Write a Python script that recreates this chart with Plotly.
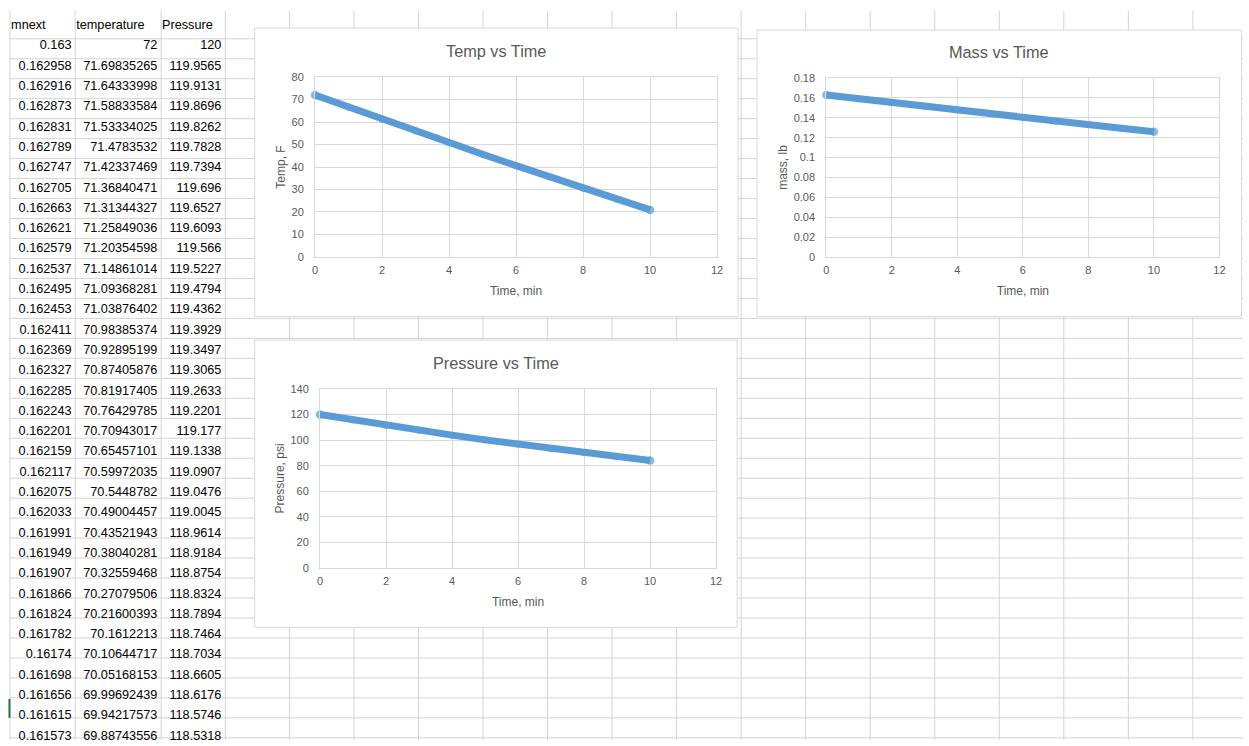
import plotly.graph_objects as go

W, H = 1249, 746
FONT = "Liberation Sans, Arial, sans-serif"
GREY_TEXT = "#595959"
SERIES = "#5B9BD5"
CHART_GRID = "#d9d9d9"
SHEET_GRID = "#d4d4d4"
CLEAR = "rgba(0,0,0,0)"

# ---- worksheet columns -------------------------------------------------
headers = ["mnext", "temperature", "Pressure"]
mnext = [0.163, 0.162958, 0.162916, 0.162873, 0.162831, 0.162789, 0.162747,
         0.162705, 0.162663, 0.162621, 0.162579, 0.162537, 0.162495, 0.162453,
         0.162411, 0.162369, 0.162327, 0.162285, 0.162243, 0.162201, 0.162159,
         0.162117, 0.162075, 0.162033, 0.161991, 0.161949, 0.161907, 0.161866,
         0.161824, 0.161782, 0.16174, 0.161698, 0.161656, 0.161615, 0.161573]
temperature = [72, 71.69835265, 71.64333998, 71.58833584, 71.53334025, 71.4783532,
               71.42337469, 71.36840471, 71.31344327, 71.25849036, 71.20354598,
               71.14861014, 71.09368281, 71.03876402, 70.98385374, 70.92895199,
               70.87405876, 70.81917405, 70.76429785, 70.70943017, 70.65457101,
               70.59972035, 70.5448782, 70.49004457, 70.43521943, 70.38040281,
               70.32559468, 70.27079506, 70.21600393, 70.1612213, 70.10644717,
               70.05168153, 69.99692439, 69.94217573, 69.88743556]
pressure = [120, 119.9565, 119.9131, 119.8696, 119.8262, 119.7828, 119.7394,
            119.696, 119.6527, 119.6093, 119.566, 119.5227, 119.4794, 119.4362,
            119.3929, 119.3497, 119.3065, 119.2633, 119.2201, 119.177, 119.1338,
            119.0907, 119.0476, 119.0045, 118.9614, 118.9184, 118.8754, 118.8324,
            118.7894, 118.7464, 118.7034, 118.6605, 118.6176, 118.5746, 118.5318]

# ---- chart series (one point per minute) --------------------------------
time_min = [0, 1, 2, 3, 4, 5, 6, 7, 8, 9, 10]
temp_F = [72, 66.6, 61.3, 56.0, 50.8, 45.7, 40.6, 35.6, 30.6, 25.7, 20.9]
mass_lb = [0.163, 0.1591, 0.1553, 0.1515, 0.1478, 0.1441, 0.1404, 0.1367,
           0.1331, 0.1295, 0.1259]
pressure_psi = [120, 115.7, 111.6, 107.7, 103.9, 100.2, 96.7, 93.3, 90.1,
                87.0, 84.0]


def fx(px):
    return min(max(px / W, 0.0), 1.0)


def fy(py):
    return min(max(1 - py / H, 0.0), 1.0)


# worksheet geometry (pixels)
SHEET_TOP = 5
TABLE_TOP = 6
HEADER_H = 27.3
ROW_H = 20.3
TABLE_COLS = [7, 72.7, 159.3, 224]
col_w = [b - a for a, b in zip(TABLE_COLS[:-1], TABLE_COLS[1:])]
TXT = dict(family=FONT, size=12.7, color="#000000")
ACTIVE_ROW = 33  # data row index carrying the selection marker

fig = go.Figure()

# header row (left aligned text)
hdr_shift = -6.9
fig.add_trace(go.Table(
    domain=dict(x=[fx(TABLE_COLS[0] + hdr_shift), fx(TABLE_COLS[-1] + hdr_shift)],
                y=[0, fy(TABLE_TOP)]),
    columnwidth=col_w,
    header=dict(values=headers, align="left", height=HEADER_H,
                fill_color=CLEAR, line=dict(color=CLEAR, width=0), font=TXT),
    cells=dict(values=[[], [], []], fill_color=CLEAR,
               line=dict(color=CLEAR, width=0)),
))

# numeric body (right aligned text)
body_shift = 4.5
fig.add_trace(go.Table(
    domain=dict(x=[fx(TABLE_COLS[0] + body_shift), fx(TABLE_COLS[-1] + body_shift)],
                y=[0, fy(TABLE_TOP)]),
    columnwidth=col_w,
    header=dict(values=["", "", ""], height=HEADER_H - 7.3,
                fill_color=CLEAR, line=dict(color=CLEAR, width=0), font=TXT),
    cells=dict(values=[[str(v) for v in mnext],
                       [str(v) for v in temperature],
                       [str(v) for v in pressure]],
               align="right", height=ROW_H,
               fill_color=CLEAR, line=dict(color=CLEAR, width=0), font=TXT),
))

# chart series
for xa, ya, yv in (("x", "y", temp_F), ("x2", "y2", mass_lb), ("x3", "y3", pressure_psi)):
    sizes = [8.5] + [7] * (len(yv) - 2) + [8.5]
    fig.add_trace(go.Scatter(
        x=time_min, y=yv, xaxis=xa, yaxis=ya, mode="lines+markers",
        line=dict(color=SERIES, width=7),
        marker=dict(color=SERIES, size=sizes, line=dict(width=0)),
        showlegend=False, cliponaxis=False, hoverinfo="x+y"))

# ---- worksheet gridlines and chart frames --------------------------------
shapes = []
col_edges = TABLE_COLS + [288.5 + 65 * k for k in range(15)]
for x in col_edges:
    shapes.append(dict(type="line", xref="paper", yref="paper", layer="below",
                       x0=fx(x), x1=fx(x), y0=fy(SHEET_TOP), y1=0,
                       line=dict(color=SHEET_GRID, width=1)))
row_edges = [TABLE_TOP + HEADER_H + ROW_H * k for k in range(36)]
for y in row_edges:
    shapes.append(dict(type="line", xref="paper", yref="paper", layer="below",
                       x0=fx(TABLE_COLS[0]), x1=1, y0=fy(y), y1=fy(y),
                       line=dict(color=SHEET_GRID, width=1)))
# selection marker on the active row
act_top = TABLE_TOP + HEADER_H + ROW_H * ACTIVE_ROW
shapes.append(dict(type="rect", xref="paper", yref="paper", layer="above",
                   x0=fx(5.5), x1=fx(7.5), y0=fy(act_top + ROW_H), y1=fy(act_top + 1),
                   fillcolor="#217346", line=dict(width=0)))

frames = [(253.5, 22.5, 740.5, 315.5),
          (759.5, 24.5, 1247.5, 315.5),
          (253.5, 339.5, 739.5, 631.5)]
for x0, y0, x1, y1 in frames:
    shapes.append(dict(type="rect", xref="paper", yref="paper", layer="below",
                       x0=fx(x0), x1=fx(x1), y0=fy(y1), y1=fy(y0),
                       fillcolor="white", line=dict(color=CHART_GRID, width=1)))


# ---- axes ---------------------------------------------------------------
def axis(domain, rng, dtick, title, standoff, ticklen):
    return dict(domain=domain, range=rng, dtick=dtick, tick0=0,
                showgrid=True, gridcolor=CHART_GRID, gridwidth=1,
                zeroline=False, showline=True, linecolor=CHART_GRID,
                linewidth=1, mirror=True, ticks="outside", ticklen=ticklen,
                tickcolor=CLEAR,
                tickfont=dict(family=FONT, size=11, color=GREY_TEXT),
                title=dict(text=title, standoff=standoff,
                           font=dict(family=FONT, size=12, color=GREY_TEXT)),
                fixedrange=True)


plots = [
    # x0, x1, top, bottom (pixels)
    (314.3, 719.3, 72.3, 255.0),
    (829.3, 1225.3, 73.3, 255.0),
    (319.3, 718.3, 389.3, 571.0),
]
y_specs = [([0, 80], 10, "Temp, F"),
           ([0, 0.18], 0.02, "mass, lb"),
           ([0, 140], 20, "Pressure, psi")]

layout_axes = {}
for i, ((x0, x1, top, bot), (yr, yd, yt)) in enumerate(zip(plots, y_specs)):
    sfx = "" if i == 0 else str(i + 1)
    xa = axis([fx(x0), fx(x1)], [0, 12], 2, "Time, min", 11, 3)
    xa["anchor"] = "y" + sfx
    ya = axis([fy(bot), fy(top)], yr, yd, yt, 3, 8)
    ya["anchor"] = "x" + sfx
    layout_axes["xaxis" + sfx] = xa
    layout_axes["yaxis" + sfx] = ya

titles = [("Temp vs Time", 496.5, 46),
          ("Mass vs Time", 1003, 46.5),
          ("Pressure vs Time", 496.5, 362.5)]
annotations = [dict(text=t, xref="paper", yref="paper", x=fx(x), y=fy(y),
                    xanchor="center", yanchor="middle", showarrow=False,
                    font=dict(family=FONT, size=16.3, color=GREY_TEXT))
               for t, x, y in titles]

fig.update_layout(
    width=W, height=H, autosize=False,
    margin=dict(l=0, r=0, t=0, b=0),
    paper_bgcolor="white", plot_bgcolor="white",
    font=dict(family=FONT, color=GREY_TEXT),
    shapes=shapes, annotations=annotations,
    showlegend=False,
    **layout_axes,
)

fig.write_html("out.html", config={"displayModeBar": False})
